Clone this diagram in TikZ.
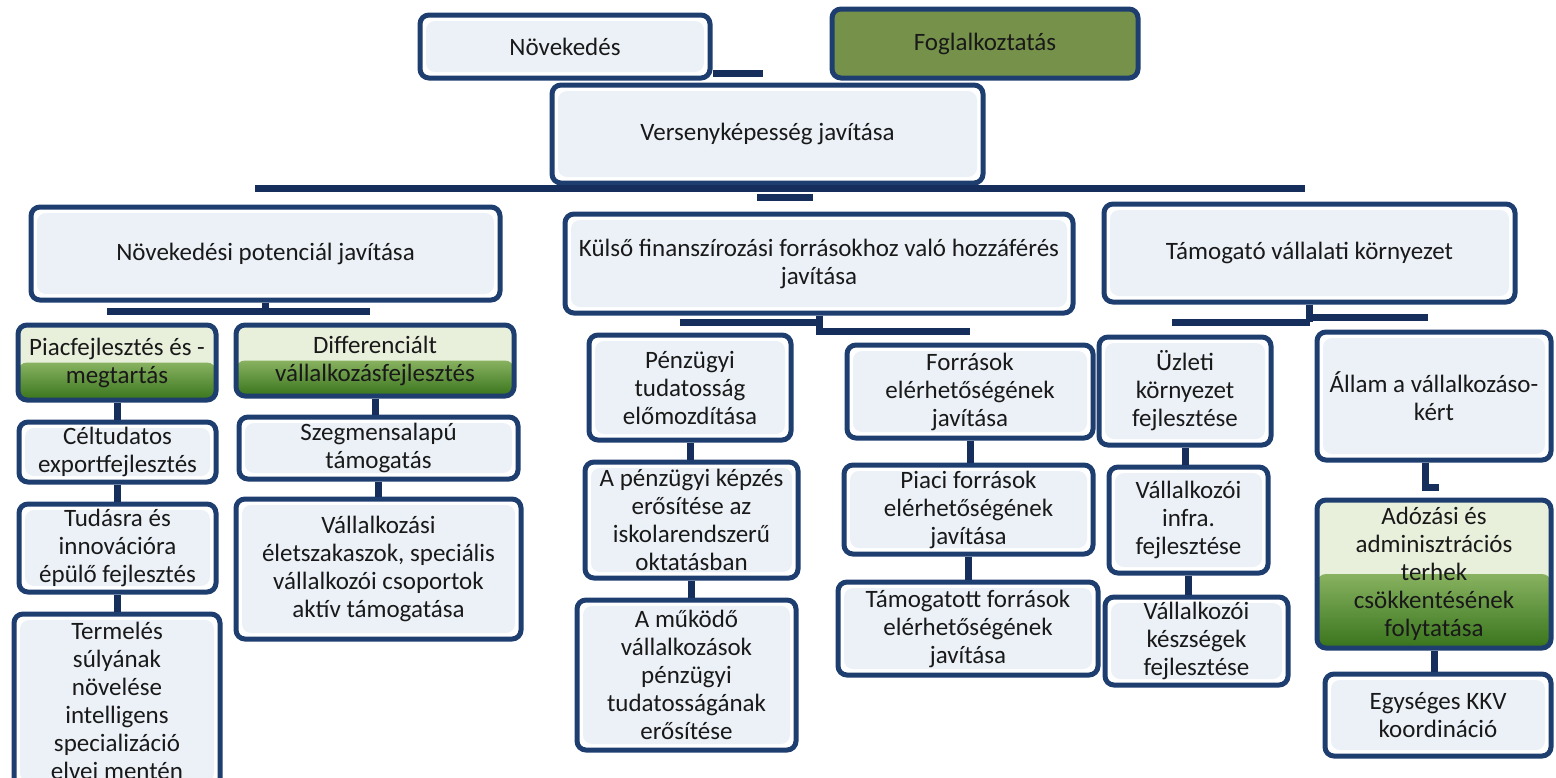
\documentclass[tikz,border=0pt]{standalone}
\usepackage{fontspec}
\setmainfont{Carlito}
\usetikzlibrary{positioning, calc}

\definecolor{boxline}{RGB}{30,62,112}
\definecolor{boxfill}{RGB}{236,241,248}
\definecolor{barcol}{RGB}{22,46,92}
\definecolor{olivefill}{RGB}{118,146,74}
\definecolor{greenlight}{RGB}{232,240,220}
\definecolor{greenmid}{RGB}{136,178,96}
\definecolor{greendark}{RGB}{56,116,28}

\tikzset{
    box/.style={
        draw=boxline, line width=5pt, rounded corners=9pt, fill=white,
        align=center, inner sep=0pt, text=black!90,
        font=\fontsize{25}{28}\selectfont,
        path picture={
            \fill[boxfill] ([shift={(6pt,-6pt)}]path picture bounding box.north west)
                rectangle ([shift={(-6pt,6pt)}]path picture bounding box.south east);
        }
    },
    greenbox/.style={box, fill=greenlight,
        path picture={
            \fill[greenlight] (path picture bounding box.north west) rectangle (path picture bounding box.east);
            \shade[top color=greenmid, bottom color=greendark]
                (path picture bounding box.west) rectangle (path picture bounding box.south east);
        }
    },
    olivebox/.style={box, fill=olivefill, path picture={}},
    bar/.style={draw=barcol, line width=7pt}
}

\begin{document}
\begin{tikzpicture}[x=1pt, y=-1pt]
    \useasboundingbox (0,0) rectangle (1556,777);

    % top row
    \node[box, minimum width=290, minimum height=63] (nov) at (565,46.5) {Növekedés};
    \node[olivebox, minimum width=306, minimum height=69] (fog) at (985,43.5) {Foglalkoztatás};
    \node[box, minimum width=431, minimum height=98] (vers) at (767.5,134) {Versenyképesség javítása};

    % second row
    \node[box, minimum width=469, minimum height=93] (novpot) at (265.5,253.5) {Növekedési potenciál javítása};
    \node[box, minimum width=508, minimum height=99] (kulso) at (819,263.5) {Külső finanszírozási forrásokhoz való hozzáférés\\javítása};
    \node[box, minimum width=411, minimum height=98] (tamog) at (1309.5,253) {Támogató vállalati környezet};

    % column 1
    \node[greenbox, minimum width=198, minimum height=75] (piac) at (117,362.5) {Piacfejlesztés és -\\megtartás};
    \node[box, minimum width=197, minimum height=60] (celt) at (117.5,452) {Céltudatos\\exportfejlesztés};
    \node[box, minimum width=197, minimum height=88] (tudas) at (117.5,548) {Tudásra és\\innovációra\\épülő fejlesztés};
    \node[box, minimum width=206, minimum height=174] (term) at (117,701) {Termelés\\súlyának\\növelése\\intelligens\\specializáció\\elvei mentén};

    % column 2
    \node[greenbox, minimum width=278, minimum height=71] (diff) at (375,360.5) {Differenciált\\vállalkozásfejlesztés};
    \node[box, minimum width=279, minimum height=62] (szegm) at (378.5,448) {Szegmensalapú\\támogatás};
    \node[box, minimum width=285, minimum height=140] (eletsz) at (378.5,569) {Vállalkozási\\életszakaszok, speciális\\vállalkozói csoportok\\aktív támogatása};

    % column 3
    \node[box, minimum width=202, minimum height=105] (penz) at (690,387.5) {Pénzügyi\\tudatosság\\előmozdítása};
    \node[box, minimum width=213, minimum height=116] (kepz) at (691.5,520) {A pénzügyi képzés\\erősítése az\\iskolarendszerű\\oktatásban};
    \node[box, minimum width=219, minimum height=150] (mukodo) at (686.5,675) {A működő\\vállalkozások\\pénzügyi\\tudatosságának\\erősítése};

    % column 4
    \node[box, minimum width=246, minimum height=93] (forr) at (970,391.5) {Források\\elérhetőségének\\javítása};
    \node[box, minimum width=249, minimum height=89] (piaci) at (968.5,509.5) {Piaci források\\elérhetőségének\\javítása};
    \node[box, minimum width=260, minimum height=93] (tamforr) at (968,628.5) {Támogatott források\\elérhetőségének\\javítása};

    % column 5
    \node[box, minimum width=172, minimum height=108] (uzleti) at (1185,391) {Üzleti\\környezet\\fejlesztése};
    \node[box, minimum width=159, minimum height=106] (infra) at (1188.5,520) {Vállalkozói\\infra.\\fejlesztése};
    \node[box, minimum width=183, minimum height=88] (keszs) at (1196.5,641) {Vállalkozói\\készségek\\fejlesztése};

    % column 6
    \node[box, minimum width=234, minimum height=128] (allam) at (1434,396) {Állam a vállalkozáso-\\kért};
    \node[greenbox, minimum width=234, minimum height=148] (adozas) at (1434,574) {Adózási és\\adminisztrációs\\terhek\\csökkentésének\\folytatása};
    \node[box, minimum width=226, minimum height=82] (egys) at (1438,715) {Egységes KKV\\koordináció};

    % connectors
    \coordinate (novbar) at (763,73.5);
    \coordinate (topL) at (255,188.5);
    \coordinate (topR) at (1305,188.5);
    \coordinate (versL) at (757,197);
    \coordinate (versR) at (813,197);
    \coordinate (npL) at (107,311);
    \coordinate (npR) at (370,311);
    \coordinate (kuL) at (680,322);
    \coordinate (kuM) at (819,331);
    \coordinate (kuR) at (970,331);
    \coordinate (taL) at (1172,322);
    \coordinate (taM) at (1309.5,317);
    \coordinate (taR) at (1428,317);
    \coordinate (alC) at (1425,487);
    \coordinate (alE) at (1439,487);

    \draw[bar] (nov.south east |- novbar) -- (novbar);
    \draw[bar] (topL) -- (topR);
    \draw[bar] (versL) -- (versR);
    \draw[bar] (npL) -- (npR);
    \draw[bar] (novpot.south) -- (novpot.south |- npR);
    \draw[bar] (kuL) -- (kuL -| kulso.south);
    \draw[bar] (kulso.south) -- (kuM) -- (kuR);
    \draw[bar] (taL) -- (taL -| tamog.south);
    \draw[bar] (tamog.south) -- (tamog.south |- taL);
    \draw[bar] (taM) -- (taR);

    \draw[bar] (piac.south) -- (piac.south |- celt.north);
    \draw[bar] (celt.south) -- (celt.south |- tudas.north);
    \draw[bar] (tudas.south) -- (tudas.south |- term.north);
    \draw[bar] (diff.south) -- (diff.south |- szegm.north);
    \draw[bar] (szegm.south) -- (szegm.south |- eletsz.north);
    \draw[bar] (penz.south) -- (penz.south |- kepz.north);
    \draw[bar] (kepz.south) -- (kepz.south |- mukodo.north);
    \draw[bar] (forr.south) -- (forr.south |- piaci.north);
    \draw[bar] (piaci.south) -- (piaci.south |- tamforr.north);
    \draw[bar] (uzleti.south) -- (uzleti.south |- infra.north);
    \draw[bar] (infra.south) -- (infra.south |- keszs.north);
    \draw[bar] (allam.south -| alC) -- (alC) -- (alE);
    \draw[bar] (adozas.south) -- (adozas.south |- egys.north);
\end{tikzpicture}
\end{document}
